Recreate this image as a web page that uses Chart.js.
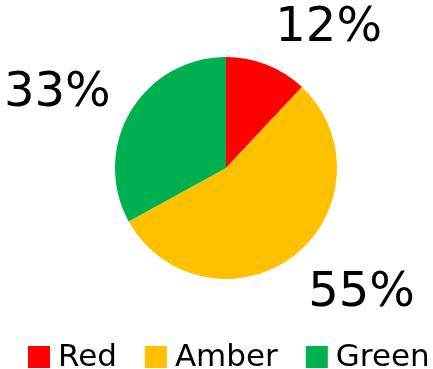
<!DOCTYPE html>
<html>
<head>
<meta charset="utf-8">
<script src="https://cdn.jsdelivr.net/npm/chart.js@4.4.1/dist/chart.umd.min.js"></script>
<style>
  html, body { margin: 0; padding: 0; background: #ffffff; }
  #wrap { width: 433px; height: 369px; position: relative; }
</style>
</head>
<body>
<div id="wrap"><canvas id="c" width="433" height="369"></canvas></div>
<script>
// RAG status split
const categories = ['Red', 'Amber', 'Green'];
const shares = [12, 55, 33];
const colours = ['#FF0000', '#FFC000', '#00B050'];

const FONT = '"DejaVu Sans", Verdana, sans-serif';

// Percentage labels placed just outside each slice, at its mid angle
const outsideLabels = {
  id: 'outsideLabels',
  afterDatasetsDraw(chart) {
    const ctx = chart.ctx;
    const meta = chart.getDatasetMeta(0);
    ctx.save();
    ctx.font = '48px ' + FONT;
    ctx.fillStyle = '#000000';
    ctx.textAlign = 'center';
    ctx.textBaseline = 'middle';
    meta.data.forEach((arc, i) => {
      const p = arc.getProps(['x', 'y', 'startAngle', 'endAngle', 'outerRadius'], true);
      const mid = (p.startAngle + p.endAngle) / 2;
      const r = p.outerRadius + 23;
      const ax = p.x + Math.cos(mid) * r;
      const ay = p.y + Math.sin(mid) * r;
      const text = shares[i] + '%';
      const w = ctx.measureText(text).width;
      const h = 40;
      const cx = ax + Math.sign(Math.cos(mid)) * w / 2;
      const cy = ay + Math.sin(mid) * h / 2 + 4;
      ctx.fillText(text, cx, cy);
    });
    ctx.restore();
  }
};

// Legend row along the bottom, built from the chart's own legend items
const bottomLegend = {
  id: 'bottomLegend',
  afterDraw(chart) {
    const ctx = chart.ctx;
    const items = chart.options.plugins.legend.labels.generateLabels(chart);
    const box = 22, gap = 8, spacing = 28;
    ctx.save();
    ctx.font = '31px ' + FONT;
    ctx.textBaseline = 'middle';
    ctx.textAlign = 'left';
    let x = 28;
    const yMid = 357;
    items.forEach((it) => {
      ctx.fillStyle = it.fillStyle;
      ctx.fillRect(x, yMid - box / 2, box, box);
      ctx.fillStyle = '#000000';
      ctx.fillText(it.text, x + box + gap, yMid + 1);
      x += box + gap + ctx.measureText(it.text).width + spacing;
    });
    ctx.restore();
  }
};

new Chart(document.getElementById('c'), {
  type: 'pie',
  data: {
    labels: categories,
    datasets: [{
      data: shares,
      backgroundColor: colours,
      borderWidth: 0
    }]
  },
  options: {
    responsive: false,
    animation: false,
    layout: { padding: { left: 115, right: 96, top: 57, bottom: 90 } },
    plugins: {
      legend: { display: false },
      tooltip: { enabled: false }
    }
  },
  plugins: [outsideLabels, bottomLegend]
});
</script>
</body>
</html>
